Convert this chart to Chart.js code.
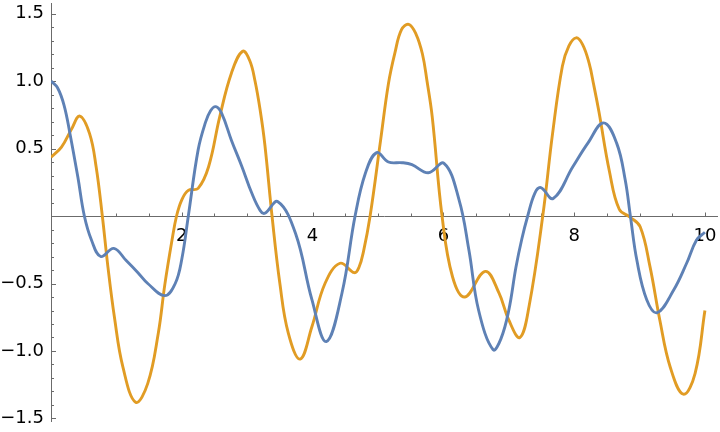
<!DOCTYPE html>
<html>
<head>
<meta charset="utf-8">
<script src="https://cdn.jsdelivr.net/npm/chart.js@4.4.1/dist/chart.umd.min.js"></script>
<style>
  html, body { margin: 0; padding: 0; background: #ffffff; }
  #wrap { width: 720px; height: 432px; position: relative; }
</style>
</head>
<body>
<div id="wrap"><canvas id="c" width="720" height="432"></canvas></div>
<script>
// ---- data ----
const blueX = [0, 0.1, 0.2, 0.29, 0.41, 0.51, 0.62, 0.76, 0.96, 1.15, 1.33, 1.48, 1.74, 1.9, 2.0, 2.1, 2.25, 2.36, 2.44, 2.52, 2.61, 2.76, 2.92, 3.07, 3.2, 3.27, 3.47, 3.74, 3.99, 4.21, 4.45, 4.65, 4.81, 4.98, 5.16, 5.37, 5.52, 5.77, 6.01, 6.24, 6.39, 6.54, 6.76, 6.88, 7.0, 7.11, 7.2, 7.29, 7.4, 7.49, 7.68, 7.98, 8.21, 8.45, 8.65, 8.78, 8.86, 8.96, 9.11, 9.27, 9.52, 9.72, 9.87, 10.0];
const blueY = [1.0, 0.95, 0.82, 0.61, 0.29, 0.0, -0.18, -0.30, -0.24, -0.33, -0.42, -0.50, -0.59, -0.50, -0.32, 0.0, 0.49, 0.69, 0.78, 0.81, 0.76, 0.56, 0.365, 0.17, 0.04, 0.02, 0.106, -0.13, -0.62, -0.93, -0.57, 0.0, 0.32, 0.47, 0.40, 0.395, 0.38, 0.32, 0.39, 0.12, -0.25, -0.70, -0.99, -0.91, -0.70, -0.38, -0.17, 0.0, 0.17, 0.21, 0.13, 0.365, 0.54, 0.69, 0.54, 0.27, 0.0, -0.33, -0.62, -0.716, -0.55, -0.35, -0.18, -0.12];

const orangeX = [0, 0.16, 0.31, 0.44, 0.59, 0.69, 0.785, 0.87, 0.97, 1.1, 1.295, 1.48, 1.64, 1.74, 1.85, 1.92, 2.0, 2.1, 2.25, 2.41, 2.58, 2.76, 2.93, 3.04, 3.12, 3.2, 3.27, 3.38, 3.5, 3.63, 3.81, 3.99, 4.19, 4.42, 4.64, 4.71, 4.78, 4.88, 5.04, 5.16, 5.26, 5.36, 5.47, 5.58, 5.68, 5.75, 5.83, 5.98, 6.14, 6.33, 6.64, 6.85, 7.0, 7.17, 7.31, 7.52, 7.67, 7.82, 7.92, 8.03, 8.13, 8.23, 8.3, 8.38, 8.54, 8.69, 8.86, 9.01, 9.16, 9.31, 9.47, 9.67, 9.85, 10.0];
const orangeY = [0.435, 0.51, 0.64, 0.74, 0.61, 0.365, 0.0, -0.375, -0.75, -1.12, -1.38, -1.24, -0.87, -0.51, -0.18, 0.0, 0.12, 0.19, 0.205, 0.365, 0.735, 1.06, 1.22, 1.15, 1.0, 0.78, 0.53, 0.0, -0.50, -0.87, -1.06, -0.82, -0.50, -0.35, -0.42, -0.38, -0.26, 0.0, 0.56, 0.98, 1.21, 1.38, 1.42, 1.35, 1.2, 1.0, 0.735, 0.0, -0.45, -0.60, -0.41, -0.57, -0.77, -0.90, -0.67, 0.0, 0.61, 1.11, 1.26, 1.32, 1.27, 1.13, 0.97, 0.77, 0.33, 0.05, -0.01, -0.08, -0.375, -0.77, -1.12, -1.32, -1.165, -0.70];

const xTickValues = [2, 4, 6, 8, 10];
const xTickLabels = ['2', '4', '6', '8', '10'];
const yTickValues = [1.5, 1.0, 0.5, -0.5, -1.0, -1.5];
const yTickLabels = ['1.5', '1.0', '0.5', '\u22120.5', '\u22121.0', '\u22121.5'];
const xMinorStep = 0.5;
const yMinorStep = 0.1;

const xRange = [0, 10.2];
const yRange = [-1.526, 1.578];

function zip(xs, ys) { return xs.map((v, i) => ({ x: v, y: ys[i] })); }
function labelFor(v, vals, labs) {
  for (let i = 0; i < vals.length; i++) if (Math.abs(v - vals[i]) < 1e-6) return labs[i];
  return '';
}
function stepTicks(lo, hi, step) {
  const out = [];
  const n0 = Math.ceil(lo / step - 1e-9), n1 = Math.floor(hi / step + 1e-9);
  for (let n = n0; n <= n1; n++) if (n !== 0) out.push({ value: Math.round(n * step * 1000) / 1000 });
  return out;
}

const axesPlugin = {
  id: 'mathAxes',
  beforeDatasetsDraw(chart) {
    const { ctx, chartArea, scales } = chart;
    const xs = scales.x, ys = scales.y;
    const yLine = Math.round(ys.getPixelForValue(0)) + 0.5;
    const xLine = Math.round(xs.getPixelForValue(0)) + 0.5;
    ctx.save();
    ctx.strokeStyle = '#6b6b6b';
    ctx.lineWidth = 1;
    ctx.beginPath();
    ctx.moveTo(chartArea.left, yLine); ctx.lineTo(chartArea.right, yLine);
    ctx.moveTo(xLine, chartArea.top); ctx.lineTo(xLine, chartArea.bottom);
    xs.ticks.forEach(t => {
      const v = t.value;
      const major = xTickValues.some(m => Math.abs(m - v) < 1e-6);
      const px = Math.round(xs.getPixelForValue(v)) + 0.5;
      ctx.moveTo(px, yLine); ctx.lineTo(px, yLine - (major ? 4 : 3));
    });
    ys.ticks.forEach(t => {
      const v = t.value;
      const major = yTickValues.some(m => Math.abs(m - v) < 1e-6);
      const py = Math.round(ys.getPixelForValue(v)) + 0.5;
      ctx.moveTo(xLine, py); ctx.lineTo(xLine + (major ? 4.5 : 2.5), py);
    });
    ctx.stroke();
    ctx.restore();
  }
};

const tickFont = { family: 'DejaVu Sans', size: 18 };

new Chart(document.getElementById('c'), {
  type: 'line',
  data: {
    datasets: [
      { data: zip(blueX, blueY), borderColor: '#5E81B5', borderWidth: 2.9, pointRadius: 0, tension: 0.4, fill: false },
      { data: zip(orangeX, orangeY), borderColor: '#E19C24', borderWidth: 2.9, pointRadius: 0, tension: 0.4, fill: false }
    ]
  },
  options: {
    responsive: false,
    animation: false,
    events: [],
    layout: { padding: { top: 3, right: 2, bottom: 10, left: 0 } },
    plugins: { legend: { display: false }, tooltip: { enabled: false } },
    scales: {
      x: {
        type: 'linear', min: xRange[0], max: xRange[1],
        position: { y: 0 },
        grid: { display: false, drawTicks: false },
        border: { display: false },
        afterBuildTicks: (s) => { s.ticks = stepTicks(xRange[0], xRange[1], xMinorStep); },
        afterFit: (s) => { s.paddingLeft = 0; s.paddingRight = 0; },
        ticks: {
          autoSkip: false, maxRotation: 0, padding: 10,
          color: '#000', font: tickFont,
          callback: (v) => labelFor(v, xTickValues, xTickLabels)
        }
      },
      y: {
        type: 'linear', min: yRange[0], max: yRange[1],
        position: 'left',
        grid: { display: false, drawTicks: false },
        border: { display: false },
        afterBuildTicks: (s) => { s.ticks = stepTicks(yRange[0], yRange[1], yMinorStep); },
        afterFit: (s) => { s.width = 51; s.paddingTop = 0; s.paddingBottom = 0; },
        ticks: {
          autoSkip: false, padding: 7,
          color: '#000', font: tickFont,
          callback: (v) => labelFor(v, yTickValues, yTickLabels)
        }
      }
    }
  },
  plugins: [axesPlugin]
});
</script>
</body>
</html>
